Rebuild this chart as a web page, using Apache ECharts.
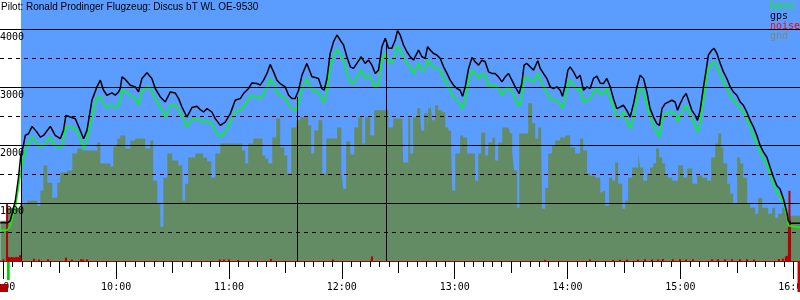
<!DOCTYPE html>
<html>
<head>
<meta charset="utf-8">
<script src="https://cdn.jsdelivr.net/npm/echarts@6/dist/echarts.min.js"></script>
<style>html,body{margin:0;padding:0;background:#fff}#c{width:800px;height:300px}</style>
</head>
<body>
<div id="c"></div>
<script>
const titleText = 'Pilot: Ronald Prodinger Flugzeug: Discus bT WL OE-9530';
const legendNames = ['baro', 'gps', 'noise', 'gnd'];

// flight track (minutes since midnight), altitudes in m
const times = [538.4,542.1,543.7,546.4,548.1,549.4,550.5,551.7,553.4,555.3,557.9,559.7,561.4,565.0,567.6,570.3,572.0,573.3,575.6,578.3,580.9,582.7,584.5,587.1,589.8,591.6,593.3,595.1,597.8,599.5,601.3,602.2,603.1,604.9,607.5,610.2,611.9,613.7,616.4,619.0,620.8,623.5,626.1,628.8,631.4,633.2,635.0,637.6,640.3,643.0,644.7,646.5,648.3,650.9,652.7,655.4,658.0,660.7,663.3,666.0,667.7,670.4,672.2,674.9,676.6,678.4,680.2,681.9,683.7,685.5,687.2,689.9,691.7,693.5,695.2,697.0,698.8,701.4,704.1,705.9,707.6,709.4,710.6,712.1,713.8,715.6,717.4,719.1,720.9,722.7,724.5,726.2,728.0,730.3,732.4,734.2,736.0,737.8,739.5,741.3,743.1,744.8,746.6,748.4,749.6,751.0,752.8,754.6,756.4,758.1,759.9,760.8,762.6,764.3,765.6,767.0,768.7,770.5,772.3,774.1,775.9,777.6,779.4,781.2,782.9,784.2,785.6,787.4,789.2,790.9,792.7,794.5,796.2,798.0,799.8,801.5,803.3,805.1,806.9,808.6,810.4,812.2,814.3,815.7,816.9,818.4,820.1,821.9,824.2,825.5,827.2,829.0,830.8,832.5,834.3,836.1,837.3,838.8,840.2,841.4,843.2,845.0,846.7,848.5,850.3,852.0,853.8,855.6,857.4,859.1,860.9,862.7,864.4,866.2,868.0,869.7,871.5,873.3,875.1,876.9,878.6,880.4,882.2,883.9,885.7,887.5,888.9,890.2,891.9,893.7,895.5,897.2,898.5,899.9,901.6,903.1,904.3,906.1,907.9,909.1,910.5,912.3,913.7,914.9,916.7,917.9,919.4,921.2,922.9,924.7,926.5,928.2,930.0,931.8,933.5,935.3,937.1,938.9,940.7,942.4,944.2,946.0,947.7,949.5,951.3,953.0,954.8,956.6,957.4,958.4,963.6];
const gps = [658,658,693,1039,1443,1850,1960,2165,2194,2321,2222,2136,2165,2321,2165,2108,2252,2511,2482,2454,2252,2108,2252,2771,3002,3118,2944,2858,2898,2858,2915,2974,3175,3130,3031,3002,2915,3147,3244,3147,2974,2828,2742,2915,2898,2801,2655,2482,2645,2667,2610,2569,2627,2569,2454,2338,2395,2541,2771,2801,2887,2974,3071,3060,3031,3118,3234,3390,3261,3118,3060,3002,2858,2801,2801,2944,3204,3407,3175,3164,3147,2974,2944,3147,3580,3781,3897,3810,3724,3521,3348,3320,3407,3521,3407,3464,3377,3234,3291,3694,3840,3667,3667,3810,3972,3897,3724,3608,3521,3464,3580,3637,3521,3493,3694,3637,3580,3551,3493,3348,3234,3118,3031,2974,2944,2840,3002,3320,3511,3435,3377,3464,3435,3261,3234,3234,3175,3088,3175,3234,3118,3002,2887,3060,3377,3407,3348,3291,3452,3320,3234,3147,3002,2974,3002,2944,2840,3031,3291,3348,3261,3147,3204,2944,3002,2974,3147,3187,3066,3060,3147,3002,2801,2627,2655,2685,2598,2482,2714,3002,3204,3147,2915,2627,2482,2368,2338,2627,2714,2742,2771,2742,2598,2714,2828,2887,2771,2598,2511,2425,2598,3002,3291,3551,3637,3667,3580,3407,3261,3147,3002,2915,2858,2742,2685,2569,2425,2309,2165,1992,1876,1789,1616,1443,1299,1242,1069,837,693,653,653];
const baro = [532,532,606,923,1270,1560,1697,1905,2021,2136,2035,1962,1992,2136,1992,1945,2078,2321,2309,2281,2108,1935,2078,2482,2818,2828,2714,2645,2685,2638,2685,2771,2944,2932,2858,2801,2685,2915,3014,2944,2801,2655,2482,2685,2685,2598,2511,2309,2454,2454,2425,2395,2425,2368,2252,2136,2222,2395,2569,2598,2655,2801,2858,2828,2801,2887,3002,3147,3060,2915,2858,2801,2714,2627,2598,2714,2974,3147,2944,2932,2915,2771,2742,2915,3348,3521,3649,3580,3464,3234,3088,3060,3175,3291,3147,3204,3118,3002,3031,3464,3580,3435,3407,3580,3706,3654,3493,3407,3348,3234,3348,3407,3291,3291,3464,3407,3348,3320,3291,3147,3060,2944,2828,2771,2714,2627,2771,3118,3291,3234,3147,3234,3204,3031,3002,3031,2974,2858,2944,3002,2915,2801,2667,2828,3147,3175,3118,3088,3234,3118,3002,2915,2801,2771,2771,2714,2645,2801,3060,3118,3031,2944,2974,2742,2771,2801,2915,2974,2875,2887,2974,2801,2655,2482,2482,2569,2425,2281,2482,2771,3002,2915,2685,2482,2338,2222,2136,2425,2541,2569,2569,2541,2395,2511,2598,2685,2598,2454,2338,2222,2368,2771,3088,3320,3407,3435,3348,3204,3088,2974,2858,2771,2714,2627,2569,2454,2309,2136,2021,1876,1761,1675,1502,1328,1183,1126,1010,779,606,577,577];

// ground elevation profile
const gndTimes = [538.4,542.1,549.0,552.8,555.9,558.1,559.7,561.3,563.4,566.0,568.7,570.3,574.0,576.7,579.3,582.0,586.2,590.0,591.6,596.9,598.5,600.6,602.2,604.9,607.5,610.2,612.8,615.5,618.1,619.7,621.9,623.5,625.1,627.2,629.8,633.0,635.2,636.7,638.3,642.1,644.7,646.3,648.4,650.6,652.7,655.4,660.7,664.9,667.0,668.6,670.2,672.9,675.5,677.7,679.3,680.9,683.0,685.1,687.2,689.4,691.0,693.1,695.8,697.9,700.5,702.1,703.7,705.3,707.5,709.6,711.7,715.4,717.5,719.7,720.7,722.3,724.5,726.6,728.7,730.8,732.4,735.1,737.2,739.3,742.5,744.7,747.3,751.0,752.1,752.6,755.3,756.4,757.9,760.1,761.7,762.2,763.8,765.4,765.9,767.0,768.0,769.6,771.2,773.4,775.0,776.6,778.1,778.7,780.3,782.9,784.5,786.6,789.8,790.9,792.5,794.1,796.2,797.8,800.0,801.5,803.1,805.3,808.5,809.5,810.6,811.6,813.2,814.3,817.5,819.1,821.2,822.8,824.4,826.0,826.5,828.1,829.7,831.8,833.4,836.1,838.8,841.4,844.1,846.7,848.3,850.4,852.0,854.7,857.4,858.4,860.0,862.1,863.7,865.3,866.9,869.1,870.6,872.2,874.4,876.0,877.6,878.6,880.3,882.3,883.9,885.6,887.1,888.7,890.3,891.9,893.5,895.6,898.8,901.5,903.6,906.3,908.9,911.6,914.2,916.4,918.5,920.1,921.7,922.8,924.9,926.5,928.1,930.2,931.8,933.4,935.5,937.1,939.8,941.4,943.5,945.1,946.7,948.8,950.4,952.0,954.1,955.7,957.3,958.4,963.6];
const gnd = [693,918,987,1039,1039,952,1212,1645,1351,1091,1351,1524,1559,1854,1940,1905,1905,2044,1680,1628,1975,2113,2165,1940,2078,2113,2113,1940,2078,1385,987,589,1437,1854,1732,1645,1039,1333,1784,1854,1854,1784,1715,1437,1853,2026,2026,2026,1905,1680,2026,2113,2113,1818,1767,1680,2130,2459,1958,1818,1507,2303,2425,2477,2477,2338,1853,2252,2425,1507,2113,2113,2303,1559,1247,2061,1836,2303,2477,2026,2477,2165,2598,2598,2598,2303,2459,2459,2546,1697,2476,1853,2476,2632,2476,2252,2546,2252,2632,2736,2425,2684,2598,2563,2303,2252,1958,1212,1853,2165,2130,1853,1853,1385,1853,2217,1818,2044,2130,1732,2044,2303,2303,2200,1853,1559,918,2200,2200,2719,2373,2113,2303,1958,901,1264,1853,1992,2078,2130,2165,1958,1853,2113,1905,1507,1472,1437,1178,1212,952,1437,1385,1697,1333,901,1039,1437,1610,1610,1853,1610,1385,1507,1610,1680,1940,1784,1680,1472,1437,1385,1645,1437,1593,1333,1472,1437,1385,1784,2026,2200,1958,1680,1333,1160,987,1784,1680,1437,987,918,814,1091,918,918,814,918,745,814,918,814,693,779,779];

// engine noise level
const noiseTimes = [540.1,542.0,542.8,543.6,544.6,545.7,546.8,547.8,548.9,556.3,559.0,563.8,573.3,576.5,581.3,582.4,584.5,655.2,657.3,660.0,664.8,682.3,715.3,736.0,828.0,851.9,864.2,867.9,871.6,877.4,881.2,884.9,888.1,890.7,896.0,899.8,903.0,906.7,916.8,920.0,923.7,927.4,931.7,935.4,939.1,952.4,954.5,956.1,956.9,957.7,958.0,958.3];
const noise = [30,990,70,60,70,60,70,65,100,40,25,30,60,25,30,25,25,25,25,25,15,35,25,80,20,25,20,20,25,25,30,25,25,35,30,30,25,30,30,30,30,30,30,30,25,35,40,80,90,700,1210,700];

// axis ticks / labels
const hourTicks = [540,600,660,720,780,840,900,960];
const hourLabels = ['9:00','10:00','11:00','12:00','13:00','14:00','15:00','16:00'];
const yLabelValues = [1000,2000,3000,4000];
const solidLevels = [1000,2000,3000,4000];
const dashedLevels = [500,1500,2500,3500];

// task markers (time, altitude where the drop line meets the track)
const dropTimes = [549.4, 696.1, 743.5];
const dropAlts = [1900, 2830, 3810];
const flightStart = 549.4;
// marks below the time axis: [from, to]
const engineMark = [542.0, 543.4];
const startMark = [538.25, 542.5];
const endMark = [962.3, 963.6];

const X_MIN = 538.25, X_MAX = 963.6;

const halfHourTicks = [];
const fiveMinTicks = [];
for (let m = 540; m <= 960; m += 5) {
  fiveMinTicks.push(m);
  if (m % 30 === 0) halfHourTicks.push(m);
}

const zip = (a, b) => a.map((v, i) => [v, b[i]]);
const MONO = 'DejaVu Sans Mono';

const chart = echarts.init(document.getElementById('c'), null, {renderer: 'canvas'});

const baseX = {
  type: 'value', min: X_MIN, max: X_MAX, position: 'bottom',
  splitLine: {show: false}, axisLabel: {show: false},
  axisLine: {show: false},
  axisTick: {show: true, lineStyle: {color: '#000', width: 1}}
};

const option = {
  animation: false,
  backgroundColor: '#fff',
  title: {
    text: titleText, left: 0, top: 0, padding: [2, 0, 0, 1],
    textStyle: {fontFamily: 'Liberation Sans', fontSize: 10, fontWeight: 'normal', color: '#000'}
  },
  legend: {
    orient: 'vertical', left: 765, top: 1, padding: 0, itemGap: 0,
    itemWidth: 0, itemHeight: 0, icon: 'rect', selectedMode: false,
    textStyle: {fontFamily: MONO, fontSize: 10, lineHeight: 10},
    data: [
      {name: legendNames[0], textStyle: {color: '#00ff00'}},
      {name: legendNames[1], textStyle: {color: '#000000'}},
      {name: legendNames[2], textStyle: {color: '#ff0000'}},
      {name: legendNames[3], textStyle: {color: '#7a8c6e'}}
    ]
  },
  grid: {left: 0, right: 0, top: 0, bottom: 39, containLabel: false, outerBoundsMode: 'none'},
  xAxis: [
    Object.assign({}, baseX, {
      axisLine: {show: true, onZero: false, lineStyle: {color: '#b00000', width: 2}},
      axisTick: {show: true, length: 6, customValues: fiveMinTicks, lineStyle: {color: '#000', width: 1}}
    }),
    Object.assign({}, baseX, {
      axisTick: {show: true, length: 12, customValues: halfHourTicks, lineStyle: {color: '#000', width: 1}}
    }),
    Object.assign({}, baseX, {
      axisTick: {show: true, length: 18, customValues: hourTicks, lineStyle: {color: '#000', width: 1}},
      axisLabel: {
        show: true, customValues: hourTicks, margin: 21, color: '#000',
        fontFamily: MONO, fontSize: 10,
        formatter: v => hourLabels[hourTicks.indexOf(v)] || ''
      }
    })
  ],
  yAxis: {
    type: 'value', min: 0, max: 4500, interval: 1000, z: 5,
    axisLine: {show: false}, axisTick: {show: false}, splitLine: {show: false},
    axisLabel: {
      inside: true, margin: 0, verticalAlign: 'top', padding: [3, 0, 0, 0],
      color: '#000', fontFamily: MONO, fontSize: 10,
      showMinLabel: false, showMaxLabel: false,
      formatter: v => yLabelValues.includes(v) ? String(v) : ''
    }
  },
  series: [
    {
      type: 'line', name: 'bg', z: 1, silent: true, symbol: 'none',
      data: [[X_MIN, 0]], lineStyle: {opacity: 0},
      markArea: {
        silent: true, itemStyle: {color: '#5a9cff', opacity: 1},
        data: [[{xAxis: flightStart, yAxis: 0}, {xAxis: X_MAX, yAxis: 4500}]]
      }
    },
    {
      type: 'line', name: legendNames[3], z: 2, step: 'end', symbol: 'none', silent: true,
      data: zip(gndTimes, gnd),
      lineStyle: {width: 0}, itemStyle: {color: '#648c64'},
      areaStyle: {color: '#648c64', opacity: 1}
    },
    {
      type: 'custom', name: legendNames[2], z: 3, silent: true,
      data: zip(noiseTimes, noise),
      encode: {x: 0, y: 1},
      itemStyle: {color: '#b40000'},
      renderItem: (params, api) => {
        const p0 = api.coord([api.value(0), 0]);
        const p1 = api.coord([api.value(0), api.value(1)]);
        return {type: 'rect', shape: {x: p0[0] - 1, y: p1[1], width: 2, height: p0[1] - p1[1]},
          style: {fill: '#b40000'}};
      },
      markLine: {
        silent: true, symbol: 'none', label: {show: false},
        data: solidLevels.map(v => ({yAxis: v, lineStyle: {type: 'solid', color: '#000', width: 1}}))
          .concat(dashedLevels.map(v => ({yAxis: v, lineStyle: {type: [4, 4], color: '#000', width: 1}})))
      }
    },
    {
      type: 'line', name: legendNames[0], z: 4, symbol: 'none', silent: true,
      data: zip(times, baro),
      lineStyle: {color: '#00ff00', width: 1.5}, itemStyle: {color: '#00ff00'}
    },
    {
      type: 'line', name: legendNames[1], z: 5, symbol: 'none', silent: true,
      data: zip(times, gps),
      lineStyle: {color: '#000', width: 1.5}, itemStyle: {color: '#000'},
      markLine: {
        silent: true, symbol: 'none', label: {show: false},
        lineStyle: {type: 'solid', color: '#000', width: 1},
        data: dropTimes.map((t, i) => [{coord: [t, 0]}, {coord: [t, dropAlts[i]]}])
      }
    }
  ]
};

chart.setOption(option);

const px = t => chart.convertToPixel({xAxisIndex: 0}, t);
const rectFor = (range, y0, y1, color) => {
  const x0 = px(range[0]), x1 = px(range[1]);
  return {type: 'rect', silent: true, z: 10,
    shape: {x: x0, y: y0, width: Math.max(1, x1 - x0), height: y1 - y0},
    style: {fill: color}};
};
chart.setOption({
  graphic: [
    rectFor(engineMark, 262, 280, '#00cc00'),
    rectFor(startMark, 284, 292, '#aa0000'),
    rectFor(endMark, 262, 292, '#cc0000')
  ]
});
</script>
</body>
</html>
